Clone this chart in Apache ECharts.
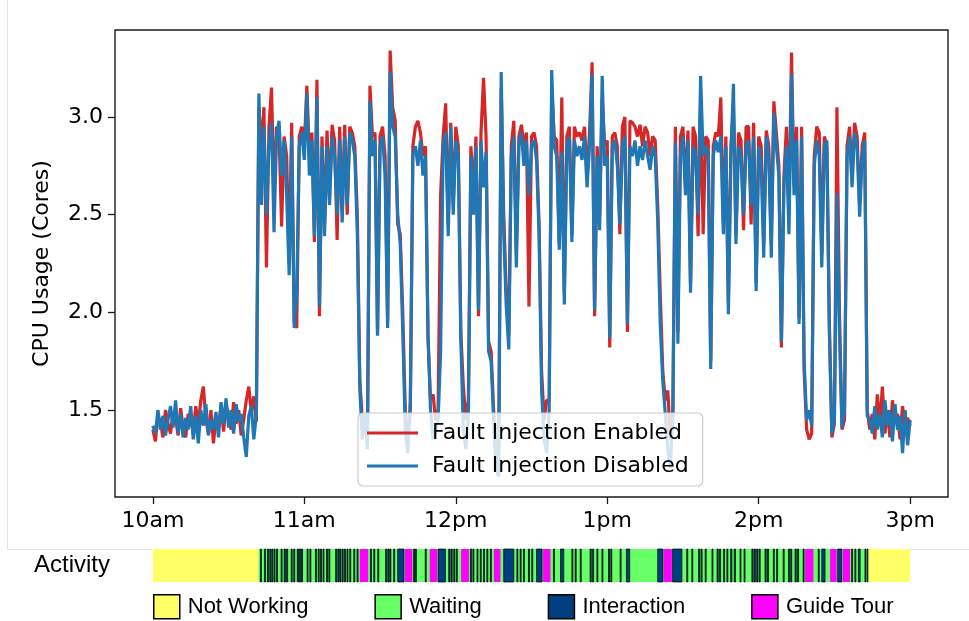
<!DOCTYPE html>
<html>
<head>
<meta charset="utf-8">
<title>CPU Usage vs Activity</title>
<script src="https://cdn.jsdelivr.net/npm/echarts@6/dist/echarts.min.js"></script>
<style>
  html, body { margin: 0; padding: 0; background: #fff; }
  #chart { width: 969px; height: 621px; }
</style>
</head>
<body>
<div id="chart"></div>
<script>
// one sample per minute, minute 0 = 10am, minute 300 = 3pm
var cpuEnabled = [
  1.40,1.34,1.47,1.44,1.36,1.50,1.43,1.38,1.49,1.46,
  1.37,1.51,1.41,1.36,1.48,1.44,1.39,1.52,1.43,1.55,
  1.62,1.45,1.38,1.50,1.33,1.46,1.42,1.52,1.39,1.53,
  1.47,1.40,1.54,1.43,1.50,1.37,1.45,1.55,1.62,1.49,
  1.57,1.44,3.05,
  2.85,3.05,2.23,2.95,3.15,2.60,2.95,2.92,2.44,2.90,
  2.80,2.25,2.97,1.95,1.92,2.90,2.95,2.85,3.16,2.80,
  2.92,2.36,3.19,1.98,2.90,2.45,2.93,2.60,2.96,2.88,
  2.37,2.95,2.52,2.96,2.50,2.95,2.92,2.85,2.50,1.65,
  1.45,1.40,1.35,3.16,2.90,2.92,1.90,2.90,2.95,2.80,
  1.95,3.34,3.05,2.98,2.45,2.40,2.00,1.50,1.35,1.50,
  2.85,2.95,2.98,2.92,2.80,2.85,1.86,1.55,1.58,1.45,
  1.50,2.60,2.90,3.07,2.45,2.97,2.55,2.95,2.85,1.90,
  1.62,1.45,1.55,2.85,2.60,2.90,1.98,2.92,3.20,2.90,
  1.85,1.80,1.50,1.25,1.30,3.15,2.50,2.10,1.88,2.85,
  2.98,2.30,2.90,2.96,2.85,2.92,2.03,2.90,2.92,2.85,
  2.45,1.70,1.45,1.55,1.55,3.15,2.90,2.88,2.35,3.10,
  2.10,2.90,2.95,2.40,2.95,2.90,2.92,2.88,2.95,2.70,
  2.92,3.28,1.98,2.85,2.50,3.10,2.85,2.88,1.82,2.90,
  2.92,2.85,2.40,2.95,3.00,1.90,2.98,2.97,2.95,2.90,
  2.96,2.85,2.95,2.92,2.80,2.90,2.88,2.55,2.10,1.70,
  1.55,1.60,1.35,1.45,2.95,1.90,2.90,2.95,2.65,2.93,
  2.15,2.95,2.90,2.39,3.10,2.40,2.90,2.88,1.75,2.85,
  2.92,2.90,3.10,2.45,2.90,2.05,2.85,3.05,2.40,2.92,
  2.88,2.42,2.95,2.95,2.45,2.97,2.15,2.90,2.85,2.35,
  2.93,2.85,2.35,3.08,2.92,2.75,1.82,2.70,2.95,2.50,
  3.33,2.65,2.95,1.97,2.95,1.70,1.40,1.35,1.38,2.80,
  2.95,2.92,2.30,2.90,2.85,1.95,1.36,1.43,3.05,2.00,
  1.40,1.45,2.85,2.95,2.70,2.97,2.90,2.55,2.85,2.92,
  1.50,1.40,1.48,1.35,1.58,1.42,1.62,1.38,1.50,1.36,
  1.55,1.43,1.48,1.35,1.52,1.40,1.46,1.42
];

var cpuDisabled = [
  1.42,1.38,1.50,1.40,1.47,1.37,1.45,1.52,1.41,1.55,
  1.38,1.48,1.36,1.46,1.40,1.52,1.35,1.47,1.33,1.50,
  1.42,1.53,1.37,1.45,1.40,1.49,1.36,1.54,1.43,1.56,
  1.41,1.50,1.38,1.53,1.44,1.48,1.36,1.26,1.47,1.52,
  1.35,1.48,3.12,
  2.55,2.95,2.50,2.85,2.97,2.41,2.90,2.98,2.70,2.88,
  2.60,2.19,2.90,1.92,2.10,2.85,2.92,2.78,3.12,2.70,
  2.88,2.39,3.10,2.03,2.85,2.39,2.85,2.55,2.90,2.80,
  2.50,2.88,2.46,2.90,2.55,2.92,2.88,2.80,2.40,1.60,
  1.35,1.48,1.30,3.08,2.80,2.88,1.88,2.85,2.90,2.70,
  1.92,3.23,2.95,2.90,2.50,2.35,1.90,1.40,1.28,1.55,
  2.80,2.85,2.75,2.88,2.70,2.80,1.90,1.50,1.35,1.40,
  1.45,1.80,2.85,2.92,2.39,2.95,2.50,2.88,2.80,1.86,
  1.40,1.30,1.48,2.80,2.50,2.85,2.01,2.88,2.64,2.82,
  1.80,1.75,1.45,1.20,1.16,3.23,2.40,2.03,1.81,2.80,
  2.90,2.23,2.85,2.92,2.75,2.88,2.60,2.85,2.88,2.78,
  2.40,1.60,1.35,1.28,1.50,3.24,2.85,2.80,2.32,2.82,
  2.04,2.85,2.90,2.36,2.88,2.80,2.85,2.78,2.90,2.64,
  2.85,3.22,2.01,2.80,2.42,3.21,2.75,2.80,1.87,2.85,
  2.88,2.75,2.45,2.85,2.90,1.94,2.85,2.80,2.88,2.75,
  2.85,2.78,2.88,2.80,2.73,2.85,2.80,2.47,1.94,1.65,
  1.48,1.30,1.20,1.50,2.87,1.84,2.80,2.90,2.60,2.88,
  2.10,2.85,2.80,2.50,3.21,2.80,2.85,2.82,1.71,2.80,
  2.88,2.82,2.90,2.40,2.85,1.99,2.80,3.17,2.35,2.85,
  2.80,2.50,2.85,2.88,2.55,2.90,2.11,2.85,2.75,2.28,
  2.90,2.80,2.28,3.02,2.85,2.70,1.85,2.65,2.85,2.40,
  3.22,2.60,2.88,1.94,2.90,1.75,1.45,1.50,1.42,2.75,
  2.88,2.80,2.23,2.85,2.88,1.90,1.38,1.45,2.61,1.90,
  1.41,1.50,2.80,2.90,2.64,2.92,2.85,2.49,2.80,2.88,
  1.47,1.45,1.38,1.52,1.40,1.48,1.36,1.55,1.42,1.50,
  1.34,1.53,1.40,1.47,1.28,1.50,1.32,1.45
];

var tickMinutes = [0, 60, 120, 180, 240, 300];
var tickLabels = ['10am', '11am', '12pm', '1pm', '2pm', '3pm'];
var yTicks = [1.5, 2.0, 2.5, 3.0];

// activity spans, [start minute, end minute]
var notWorkingSpans = [[0, 41.8], [283.5, 300]];
var waitingSpans = [[41.8, 283.5]];
var guideTourSpans = [
  [82.0, 85.3], [99.9, 102.8], [109.7, 112.6], [122.1, 125.2], [135.1, 137.7],
  [154.6, 157.5], [202.4, 205.6], [258.4, 261.7], [268.3, 270.9], [273.3, 276.2]
];
var interactionSpans = [
  [42.6, 43.0], [44.2, 44.6], [45.4, 45.8], [46.3, 46.7], [47.1, 47.5], [48.0, 48.4],
  [49.0, 49.4], [50.8, 51.2], [52.0, 52.5], [52.9, 53.4], [54.8, 55.2], [55.8, 56.2],
  [57.2, 57.7], [58.0, 58.6], [58.9, 59.3], [61.1, 61.5], [62.2, 62.6], [64.4, 64.8],
  [65.5, 65.9], [66.4, 66.8], [67.4, 67.8], [68.8, 69.2], [69.7, 70.1], [72.4, 72.9],
  [73.3, 73.8], [74.1, 74.5], [75.0, 75.4], [75.9, 76.3], [76.9, 77.3], [78.0, 78.4],
  [79.6, 80.0], [80.9, 81.3], [86.2, 86.6], [87.5, 87.9], [89.1, 89.5], [92.2, 92.7],
  [93.1, 93.6], [93.9, 94.3], [95.4, 95.8], [97.0, 99.5], [103.3, 103.7], [104.0, 104.4],
  [107.9, 108.3], [113.0, 115.9], [117.2, 117.7], [118.1, 118.6], [119.2, 119.6], [120.2, 120.6],
  [125.8, 126.3], [126.8, 127.2], [128.4, 128.8], [129.7, 130.1], [131.0, 131.4], [132.3, 132.7],
  [133.7, 134.1], [139.0, 143.0], [144.2, 144.6], [145.5, 145.9], [146.8, 147.2], [148.8, 149.2],
  [150.1, 150.5], [152.0, 154.2], [158.7, 159.1], [161.5, 162.8], [166.0, 166.4], [167.3, 167.7],
  [169.3, 169.7], [173.2, 173.7], [174.2, 174.6], [175.9, 176.3], [177.9, 178.3], [180.5, 180.9],
  [181.4, 181.8], [185.1, 185.5], [187.6, 188.9], [200.0, 202.1], [205.9, 209.6], [211.5, 211.9],
  [213.5, 213.9], [216.2, 216.7], [217.2, 217.6], [218.8, 219.2], [221.5, 221.9], [223.5, 224.0],
  [224.5, 224.9], [226.1, 226.5], [227.4, 227.8], [228.9, 229.4], [230.3, 230.8], [232.6, 233.0],
  [234.2, 234.6], [237.3, 237.8], [238.2, 238.7], [239.2, 239.7], [240.2, 240.6], [242.5, 243.0],
  [243.5, 243.9], [245.8, 246.2], [247.1, 247.5], [249.7, 250.1], [251.8, 252.3], [252.7, 253.1],
  [254.4, 254.9], [255.4, 255.8], [257.6, 258.0], [263.6, 264.0], [265.0, 266.3], [271.3, 272.9],
  [276.8, 277.2], [278.1, 278.5], [279.5, 280.2], [282.1, 282.5], [283.0, 283.4]
];

var chart = echarts.init(document.getElementById('chart'), null, { renderer: 'canvas' });

function toPoints(arr) {
  return arr.map(function (v, i) { return [i, v]; });
}

function renderSpan(params, api) {
  var p0 = api.coord([api.value(0), 1]);
  var p1 = api.coord([api.value(1), 0]);
  return {
    type: 'rect',
    shape: { x: p0[0], y: p0[1], width: Math.max(p1[0] - p0[0], 0.8), height: p1[1] - p0[1] },
    style: api.style()
  };
}

function spanSeries(name, spans, color, border) {
  return {
    name: name,
    type: 'custom',
    xAxisIndex: 1,
    yAxisIndex: 1,
    renderItem: renderSpan,
    encode: { x: [0, 1] },
    itemStyle: { color: color, borderColor: '#000', borderWidth: border },
    data: spans,
    silent: true
  };
}

var font = 'DejaVu Sans';
var font2 = 'Liberation Sans';

chart.setOption({
  animation: false,
  backgroundColor: '#fff',
  graphic: [{
    type: 'rect',
    z: -1,
    shape: { x: 7.5, y: -2, width: 970, height: 551.5 },
    style: { fill: 'none', stroke: '#e4e4e4', lineWidth: 1 }
  }],
  grid: [
    { left: 115, right: 21, top: 30, bottom: 124, show: true, borderColor: '#1a1a1a', borderWidth: 1.4, backgroundColor: 'transparent' },
    { left: 115, right: 21, top: 549, height: 33 }
  ],
  xAxis: [
    {
      type: 'value', gridIndex: 0, min: -15, max: 315,
      splitLine: { show: false },
      axisLine: { show: false, onZero: false },
      axisTick: { show: true, length: 7, customValues: tickMinutes, lineStyle: { color: '#1a1a1a', width: 1.3 } },
      axisLabel: {
        customValues: tickMinutes, margin: 13, color: '#000', fontFamily: font, fontSize: 22,
        formatter: function (v) { return tickLabels[tickMinutes.indexOf(v)]; }
      }
    },
    {
      type: 'value', gridIndex: 1, min: -15, max: 315, show: false
    }
  ],
  yAxis: [
    {
      type: 'value', gridIndex: 0, min: 1.055, max: 3.445,
      name: 'CPU Usage (Cores)', nameLocation: 'middle', nameGap: 62,
      nameTextStyle: { color: '#000', fontFamily: font, fontSize: 22 },
      splitLine: { show: false },
      axisLine: { show: false, onZero: false },
      axisTick: { show: true, length: 7, customValues: yTicks, lineStyle: { color: '#1a1a1a', width: 1.3 } },
      axisLabel: {
        customValues: yTicks, margin: 12, color: '#000', fontFamily: font, fontSize: 22,
        formatter: function (v) { return v.toFixed(1); }
      }
    },
    {
      type: 'value', gridIndex: 1, min: 0, max: 1,
      name: 'Activity', nameLocation: 'middle', nameRotate: 0, nameGap: 5,
      nameTextStyle: { color: '#000', fontFamily: font2, fontSize: 24, align: 'right' },
      axisLine: { show: false, onZero: false }, axisTick: { show: false }, axisLabel: { show: false },
      splitLine: { show: false }
    }
  ],
  legend: [
    {
      data: ['Fault Injection Enabled', 'Fault Injection Disabled'],
      orient: 'vertical', left: 358, top: 413,
      icon: 'rect', itemWidth: 51, itemHeight: 3, itemGap: 11,
      padding: [9, 14, 9, 9],
      backgroundColor: 'rgba(255,255,255,0.8)', borderColor: '#cccccc', borderWidth: 1.2, borderRadius: 5,
      textStyle: { color: '#000', fontFamily: font, fontSize: 22, padding: [0, 0, 0, 9] }
    },
    {
      data: [
        { name: 'Not Working', itemStyle: { color: '#ffff66', borderColor: '#000', borderWidth: 1.5 } },
        { name: 'Waiting', itemStyle: { color: '#66ff66', borderColor: '#000', borderWidth: 1.5 } },
        { name: 'Interaction', itemStyle: { color: '#003f7f', borderColor: '#000', borderWidth: 1.5 } },
        { name: 'Guide Tour', itemStyle: { color: '#ff00ff', borderColor: '#000', borderWidth: 1.5 } }
      ],
      orient: 'horizontal', left: 153, top: 594,
      icon: 'rect', itemWidth: 26, itemHeight: 24, itemGap: 66, padding: 0,
      selectedMode: false,
      textStyle: { color: '#000', fontFamily: font2, fontSize: 22, padding: [0, 0, 0, 3] }
    }
  ],
  series: [
    {
      name: 'Fault Injection Enabled', type: 'line', xAxisIndex: 0, yAxisIndex: 0,
      data: toPoints(cpuEnabled), showSymbol: false, color: '#d62728',
      lineStyle: { width: 3.2, color: '#d62728' }
    },
    {
      name: 'Fault Injection Disabled', type: 'line', xAxisIndex: 0, yAxisIndex: 0,
      data: toPoints(cpuDisabled), showSymbol: false, color: '#1f77b4',
      lineStyle: { width: 3.2, color: '#1f77b4' }
    },
    spanSeries('Waiting', waitingSpans, '#66ff66', 0),
    spanSeries('Interaction', interactionSpans, '#003f7f', 0.7),
    spanSeries('Guide Tour', guideTourSpans, '#ff00ff', 0),
    spanSeries('Not Working', notWorkingSpans, '#ffff66', 0)
  ]
});
</script>
</body>
</html>
